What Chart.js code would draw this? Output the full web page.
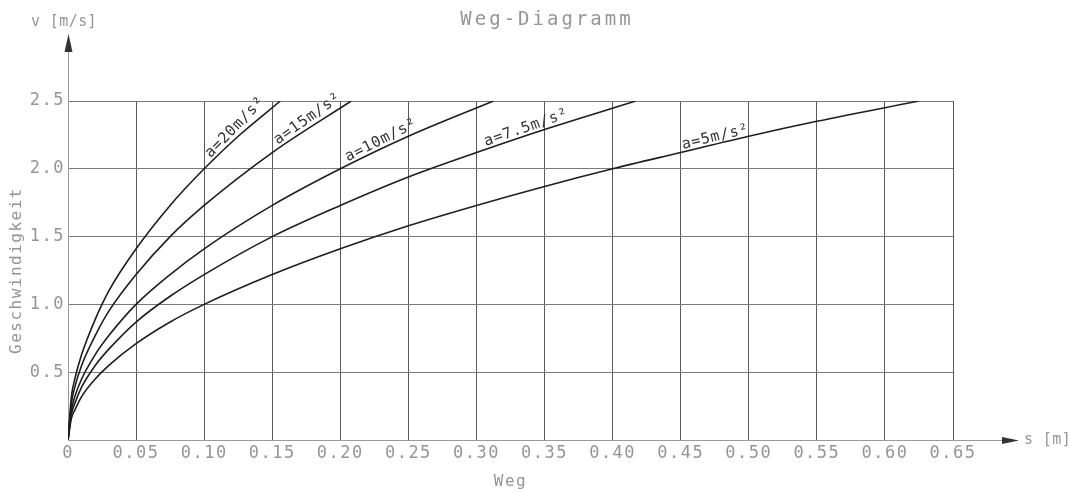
<!DOCTYPE html>
<html>
<head>
<meta charset="utf-8">
<script src="https://cdn.jsdelivr.net/npm/chart.js@4.4.1/dist/chart.umd.min.js"></script>
<style>
  html, body { margin: 0; padding: 0; background: #fff; }
</style>
</head>
<body>
<canvas id="chart" width="1070" height="493"></canvas>
<script>
// values (s in m, v in m/s), one pair of arrays per curve
const s20 = [0, 0.0025, 0.005, 0.01, 0.02, 0.03, 0.05, 0.075, 0.10, 0.125, 0.156];
const v20 = [0, 0.32, 0.45, 0.63, 0.89, 1.10, 1.41, 1.73, 2.00, 2.24, 2.50];

const s15 = [0, 0.0025, 0.005, 0.01, 0.02, 0.03, 0.05, 0.075, 0.10, 0.15, 0.208];
const v15 = [0, 0.27, 0.39, 0.55, 0.77, 0.95, 1.22, 1.50, 1.73, 2.12, 2.50];

const s10 = [0, 0.0025, 0.005, 0.01, 0.02, 0.03, 0.05, 0.075, 0.10, 0.15, 0.20, 0.25, 0.3125];
const v10 = [0, 0.22, 0.32, 0.45, 0.63, 0.77, 1.00, 1.22, 1.41, 1.73, 2.00, 2.24, 2.50];

const s75 = [0, 0.0025, 0.005, 0.01, 0.02, 0.03, 0.05, 0.075, 0.10, 0.15, 0.20, 0.25, 0.30, 0.35, 0.417];
const v75 = [0, 0.19, 0.27, 0.39, 0.55, 0.67, 0.87, 1.06, 1.22, 1.50, 1.73, 1.94, 2.12, 2.29, 2.50];

const s5 = [0, 0.0025, 0.005, 0.01, 0.02, 0.03, 0.05, 0.075, 0.10, 0.15, 0.20, 0.25, 0.30, 0.35, 0.40, 0.45, 0.50, 0.55, 0.625];
const v5 = [0, 0.16, 0.22, 0.32, 0.45, 0.55, 0.71, 0.87, 1.00, 1.22, 1.41, 1.58, 1.73, 1.87, 2.00, 2.12, 2.24, 2.35, 2.50];

const curveLabels = ['a=20m/s²', 'a=15m/s²', 'a=10m/s²', 'a=7.5m/s²', 'a=5m/s²'];

const xTickLabels = ['0', '0.05', '0.10', '0.15', '0.20', '0.25', '0.30', '0.35', '0.40', '0.45', '0.50', '0.55', '0.60', '0.65'];
const yTickLabels = ['', '0.5', '1.0', '1.5', '2.0', '2.5'];

const FONT = 'DejaVu Sans Mono';
const TEXT = '#959595';

const toPoints = (xs, ys) => xs.map((x, i) => ({ x: x, y: ys[i] }));

function curve(label, xs, ys, labelAt, labelShift) {
  return {
    label: label,
    data: toPoints(xs, ys),
    labelAt: labelAt,
    labelShift: labelShift,
    borderColor: '#1e1e1e',
    borderWidth: 1.6,
    pointRadius: 0,
    fill: false,
    cubicInterpolationMode: 'monotone',
  };
}

// curve labels, arrows, title etc.
const decorations = {
  id: 'decorations',
  beforeDraw(chart) {
    chart.ctx.letterSpacing = '1.5px';
  },
  afterDatasetsDraw(chart) {
    const ctx = chart.ctx;
    const xs = chart.scales.x, ys = chart.scales.y;
    ctx.save();
    ctx.fillStyle = '#333';
    ctx.font = '15px "' + FONT + '"';
    ctx.letterSpacing = '0.8px';
    ctx.textBaseline = 'alphabetic';
    ctx.textAlign = 'left';
    chart.data.datasets.forEach((ds) => {
      const i = ds.data.findIndex((p) => p.x === ds.labelAt);
      if (i < 1) return;
      const p = ds.data[i], a = ds.data[i - 1], b = ds.data[Math.min(i + 1, ds.data.length - 1)];
      const px = xs.getPixelForValue(p.x), py = ys.getPixelForValue(p.y);
      const ang = Math.atan2(ys.getPixelForValue(b.y) - ys.getPixelForValue(a.y),
                             xs.getPixelForValue(b.x) - xs.getPixelForValue(a.x));
      ctx.save();
      ctx.translate(px, py);
      ctx.rotate(ang);
      ctx.fillText(ds.label, ds.labelShift, -3);
      ctx.restore();
    });
    ctx.restore();
  },
  afterDraw(chart) {
    const ctx = chart.ctx;
    const area = chart.chartArea;
    const x0 = chart.scales.x.getPixelForValue(0);
    const y0 = chart.scales.y.getPixelForValue(0);
    ctx.save();
    // axis extensions
    ctx.strokeStyle = '#9a9a9a';
    ctx.lineWidth = 1;
    ctx.beginPath();
    ctx.moveTo(x0 + 0.5, area.top);
    ctx.lineTo(x0 + 0.5, 50);
    ctx.moveTo(area.right, y0 + 0.5);
    ctx.lineTo(1006, y0 + 0.5);
    ctx.stroke();
    // arrow heads
    ctx.fillStyle = '#333';
    ctx.beginPath();
    ctx.moveTo(x0 + 0.5, 34);
    ctx.lineTo(x0 - 3.5, 52);
    ctx.lineTo(x0 + 4.5, 52);
    ctx.closePath();
    ctx.fill();
    ctx.beginPath();
    ctx.moveTo(1019, y0 + 0.5);
    ctx.lineTo(1002, y0 - 3);
    ctx.lineTo(1002, y0 + 4);
    ctx.closePath();
    ctx.fill();
    // texts
    ctx.fillStyle = TEXT;
    ctx.textBaseline = 'middle';
    ctx.font = '15px "' + FONT + '"';
    ctx.letterSpacing = '0.4px';
    ctx.textAlign = 'left';
    ctx.fillText('v [m/s]', 31, 22);
    ctx.fillText('s [m]', 1024, y0);
    ctx.font = '19px "' + FONT + '"';
    ctx.letterSpacing = '3px';
    ctx.textAlign = 'center';
    ctx.fillText('Weg-Diagramm', 547, 20);
    ctx.restore();
  }
};

new Chart(document.getElementById('chart'), {
  type: 'line',
  data: {
    datasets: [
      curve(curveLabels[0], s20, v20, 0.10, 12),
      curve(curveLabels[1], s15, v15, 0.15, 9),
      curve(curveLabels[2], s10, v10, 0.20, 10),
      curve(curveLabels[3], s75, v75, 0.30, 11),
      curve(curveLabels[4], s5, v5, 0.45, 3),
    ]
  },
  options: {
    responsive: false,
    animation: false,
    layout: { padding: { top: 101, right: 117, left: 0, bottom: 0 } },
    plugins: {
      legend: { display: false },
      tooltip: { enabled: false },
    },
    scales: {
      x: {
        type: 'linear',
        min: 0,
        max: 0.65,
        afterFit(scale) { scale.height = 53; },
        ticks: {
          stepSize: 0.05,
          autoSkip: false,
          maxRotation: 0,
          padding: 3,
          color: TEXT,
          font: { family: FONT, size: 17 },
          callback: (v, i) => xTickLabels[i],
        },
        grid: {
          drawTicks: false,
          color: (c) => c.index === 0 ? '#9a9a9a' : '#5a5a5a',
          lineWidth: 1,
        },
        border: { color: '#9a9a9a' },
        title: {
          display: true,
          text: 'Weg',
          color: TEXT,
          font: { family: FONT, size: 16, lineHeight: 1.4 },
          padding: 0,
        },
      },
      y: {
        type: 'linear',
        min: 0,
        max: 2.5,
        afterFit(scale) { scale.width = 68; },
        ticks: {
          stepSize: 0.5,
          autoSkip: false,
          padding: 3,
          color: TEXT,
          font: { family: FONT, size: 17 },
          callback: (v, i) => yTickLabels[i],
        },
        grid: {
          drawTicks: false,
          color: (c) => c.index === 0 ? '#9a9a9a' : '#7a7a7a',
          lineWidth: 1,
        },
        border: { color: '#9a9a9a' },
        title: {
          display: true,
          text: 'Geschwindigkeit',
          color: TEXT,
          font: { family: FONT, size: 16, lineHeight: 2.1 },
          padding: 0,
        },
      },
    },
  },
  plugins: [decorations],
});
</script>
</body>
</html>
